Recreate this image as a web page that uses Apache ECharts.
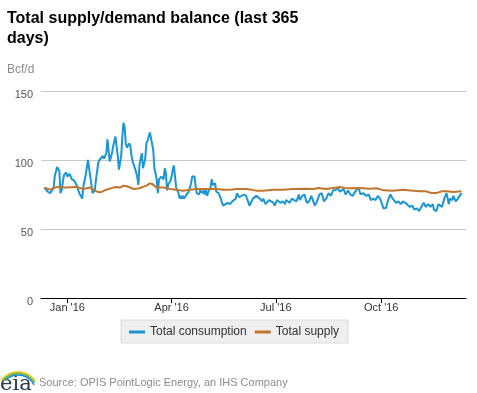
<!DOCTYPE html>
<html>
<head>
<meta charset="utf-8">
<script src="https://cdn.jsdelivr.net/npm/echarts@6/dist/echarts.min.js"></script>
<style>
html,body{margin:0;padding:0;background:#fff;}
#chart{width:477px;height:393px;}
</style>
</head>
<body>
<div id="chart"></div>
<script>
// Day 0 of the data = 12 Dec 2015 (last 365 days). Pairs are [day offset, Bcf/d].
const startDay = [2015, 11, 12];
const axisStart = [2015, 11, 9];
const axisEnd = [2016, 11, 14];
const tickMonths = [[2016,0,1],[2016,3,1],[2016,6,1],[2016,9,1]];
const monthNames = ['Jan','Feb','Mar','Apr','May','Jun','Jul','Aug','Sep','Oct','Nov','Dec'];
const yTicks = [0, 150, 50];

const consumption = [
[0,80],[1,81],[3,77],[5,76],[6,75],[8,80],[9,88],[11,95],[12,96],[13,92],[14,76],[15,78],[17,89],[19,91],[20,88],[22,90],[23,88],[24,86],[26,85],[28,82],[30,77],[31,75],[33,72],[34,81],[36,89],[38,100],[39,100],[40,88],[42,76],[44,78],[45,86],[47,98],[48,100],[49,100],[51,103],[52,101],[54,105],[55,115],[56,107],[57,99],[59,105],[60,110],[62,117],[63,116],[64,103],[65,93],[67,103],[68,117],[69,127],[70,124],[71,112],[72,109],[74,112],[75,110],[76,103],[77,99],[78,100],[79,94],[81,88],[82,82],[83,97],[84,101],[85,105],[86,94],[88,101],[89,112],[90,114],[91,114],[92,120],[93,116],[95,107],[96,94],[97,93],[98,86],[99,76],[100,86],[102,88],[103,89],[104,86],[105,94],[106,91],[107,78],[108,82],[110,85],[111,88],[112,93],[113,96],[114,88],[115,80],[117,76],[118,72],[119,74],[120,72],[121,74],[122,72],[124,75],[125,76],[126,77],[127,78],[128,83],[129,88],[131,88],[132,81],[133,76],[134,77],[135,75],[136,78],[138,76],[139,78],[140,75],[141,78],[142,74],[143,77],[145,80],[146,86],[147,82],[148,81],[149,83],[150,77],[152,76],[153,75],[154,72],[155,69],[156,67],[157,66],[158,68],[160,69],[161,69],[162,68],[163,68],[164,70],[165,71],[167,72],[168,76],[169,77],[170,73],
[174,75],[176,74],[179,67],[182,72],[185,74],[188,72],[190,70],[191,72],[193,68],[196,71],[197,72],[200,69],[201,67],[203,71],[206,69],[208,70],[210,68],[211,71],[214,69],[216,72],[218,71],[220,70],[222,75],[223,71],[225,74],[227,75],[229,69],[231,70],[233,74],[236,67],[238,70],[240,75],[242,76],[244,70],[246,72],[248,76],[250,74],[252,78],[254,78],[256,80],[258,77],[261,79],[263,75],[265,78],[267,75],[269,74],[272,78],[274,80],[276,75],[278,76],[281,74],[283,75],[285,71],[287,72],[289,71],[291,74],[293,72],[296,65],[298,65],[300,71],[302,75],[304,72],[307,69],[309,70],[311,68],[313,70],[315,69],[319,66],[321,67],[323,64],[325,65],[327,63],[329,66],[331,69],[333,66],[335,68],[337,66],[339,68],[340,64],[342,63],[344,68],[345,69],[347,66],[349,72],[351,76],[353,68],[354,72],[356,71],[357,74],[359,70],[361,72],[362,71],[364,76]
];

const supply = [
[0,80],[5,78.5],[11,80.5],[19,80],[28,80.5],[34,79],[40,80],[46,77],[49,76.6],[54,78.5],[60,80],[63,80.5],[66,80],[69,81.4],[72,81],[78,79],[83,79.5],[86,80.5],[89,81.4],[92,83],[94,82.7],[95,81.5],[98,80],[104,80],[110,79],[115,78.5],[121,77.8],[127,78.5],[133,79],[139,79],[144,79],[150,79],[156,78.5],[162,78.5],[168,79],[177,79],[185,77.8],[191,77.8],[200,78.5],[208,78.5],[217,79],[226,79.2],[235,79],[239,79.7],[246,79],[252,79.7],[258,80.4],[262,79.7],[267,79.5],[275,79.7],[284,79.2],[290,79.5],[296,78],[304,77.8],[313,78.5],[322,77.8],[328,77.3],[333,77.3],[338,76],[342,76],[347,77.3],[351,77.3],[357,76.8],[364,77.3]
];

const DAY = 86400000;
const t0 = new Date(startDay[0], startDay[1], startDay[2]).getTime();
const toSeries = arr => arr.map(p => [t0 + p[0] * DAY, p[1]]);
const tickTimes = tickMonths.map(m => new Date(m[0], m[1], m[2]).getTime());
const FONT = "'Liberation Sans', Arial, sans-serif";

const chart = echarts.init(document.getElementById('chart'), null, {renderer: 'canvas'});
chart.setOption({
  animation: false,
  backgroundColor: '#ffffff',
  textStyle: {fontFamily: FONT},
  title: {
    text: 'Total supply/demand balance (last 365\ndays)',
    left: 7, top: 8, padding: 0,
    textStyle: {fontSize: 16, fontWeight: 'bold', color: '#000', lineHeight: 20.5, fontFamily: FONT}
  },
  legend: {
    left: 121, top: 320,
    padding: [6, 9, 5, 8],
    itemGap: 8,
    itemWidth: 16, itemHeight: 3,
    icon: 'rect',
    backgroundColor: '#efefef',
    borderColor: '#dcdcdc', borderWidth: 1,
    textStyle: {fontSize: 12, color: '#333', fontFamily: FONT},
    data: ['Total consumption', 'Total supply']
  },
  grid: {left: 41, right: 11, top: 91, bottom: 95, containLabel: false},
  xAxis: {
    type: 'value',
    min: new Date(axisStart[0], axisStart[1], axisStart[2]).getTime(),
    max: new Date(axisEnd[0], axisEnd[1], axisEnd[2]).getTime(),
    axisLine: {show: true, lineStyle: {color: '#000', width: 1}},
    axisTick: {show: true, customValues: tickTimes, length: 5, lineStyle: {color: '#000'}},
    axisLabel: {
      customValues: tickTimes,
      fontSize: 11, color: '#333', margin: 4,
      formatter: v => { const d = new Date(v); return monthNames[d.getMonth()] + " '" + String(d.getFullYear()).slice(2); }
    },
    splitLine: {show: false}
  },
  yAxis: {
    type: 'value',
    min: yTicks[0], max: yTicks[1], interval: yTicks[2],
    axisLine: {show: false},
    axisTick: {show: false},
    axisLabel: {fontSize: 11, color: '#555', margin: 8, verticalAlign: 'top', lineHeight: 8},
    splitLine: {lineStyle: {color: '#c8c8c8', width: 1}}
  },
  series: [
    {name: 'Total consumption', type: 'line', data: toSeries(consumption), symbol: 'none', showSymbol: false,
     lineStyle: {color: '#1a96d4', width: 2}, itemStyle: {color: '#1a96d4'}},
    {name: 'Total supply', type: 'line', data: toSeries(supply), symbol: 'none', showSymbol: false,
     lineStyle: {color: '#c0762e', width: 2}, itemStyle: {color: '#c0762e'}}
  ],
  graphic: [
    {type: 'text', left: 7, top: 64, style: {text: 'Bcf/d', fontSize: 12, fill: '#8c8c8c', fontFamily: FONT}},
    {type: 'text', left: 39, top: 377, style: {text: 'Source: OPIS PointLogic Energy, an IHS Company', fontSize: 11, fill: '#8c8c8c', fontFamily: FONT}},
    {type: 'text', left: 0, top: 374, style: {text: 'eia', fontSize: 21, fill: '#2b3a4f', fontFamily: "'DejaVu Serif', serif"}},
    {type: 'arc', shape: {cx: 18, cy: 393, r: 21, startAngle: Math.PI * 1.2, endAngle: Math.PI * 1.8}, style: {stroke: '#f2c200', lineWidth: 1.5, fill: null}},
    {type: 'arc', shape: {cx: 18, cy: 393, r: 19.5, startAngle: Math.PI * 1.22, endAngle: Math.PI * 1.82}, style: {stroke: '#6db33f', lineWidth: 1.5, fill: null}},
    {type: 'arc', shape: {cx: 18, cy: 393, r: 18, startAngle: Math.PI * 1.25, endAngle: Math.PI * 1.85}, style: {stroke: '#0a8bd0', lineWidth: 1.5, fill: null}}
  ]
});
</script>
</body>
</html>
